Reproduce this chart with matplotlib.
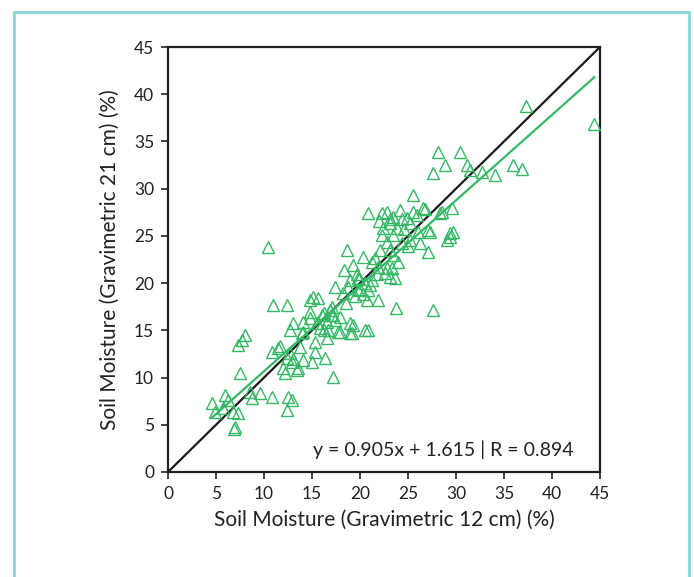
import matplotlib.pyplot as plt
from matplotlib.patches import Rectangle
import numpy as np

plt.rcParams['font.family'] = ['Lato', 'DejaVu Sans']

# soil moisture at 12 cm (x) and 21 cm (y)
sm_12cm = [
    18.6, 20.3, 21.2, 19.3, 18.3, 19.7, 21.8, 22.8, 23.1, 19.0, 20.5, 17.4,
    18.8, 19.8, 18.2, 20.8, 15.1, 14.8, 20.7, 21.9, 23.8, 14.8, 16.2, 17.2,
    17.9, 16.9, 14.1, 15.5, 16.6, 19.3, 14.1, 16.2, 17.9, 19.2, 20.5, 12.7,
    25.5, 20.8, 22.3, 23.4, 24.9, 25.9, 26.8, 28.3, 23.1, 25.2, 22.4, 23.9,
    22.3, 23.4, 26.0, 27.3, 22.8, 24.4, 25.2, 22.1, 23.1, 29.1, 29.4, 27.1,
    21.6, 23.4, 24.0, 21.9, 23.3, 22.6, 23.6, 19.8, 21.3,
    28.1, 30.4, 28.9, 27.6, 31.1, 31.5, 26.6, 28.5, 29.6, 22.8, 24.2, 25.5,
    22.0, 23.1, 24.4, 27.1, 29.7, 29.4, 27.6,
    37.3, 44.4, 32.7, 34.1, 35.9, 36.9,
    10.9, 12.4, 15.6, 17.1, 13.0, 14.8, 16.0, 17.1, 17.4, 19.0, 14.0, 15.8,
    16.7, 17.7, 19.0, 15.3, 11.5, 10.8, 13.8, 12.4, 12.9, 14.1, 15.3, 15.0,
    16.4, 12.0, 13.4, 17.2, 10.4, 20.8,
    8.0, 7.7, 7.3, 7.5, 11.7, 12.7, 13.0, 12.2, 13.5, 8.5, 9.6, 8.8, 10.8,
    12.5, 12.9, 12.4, 5.9, 4.6, 6.3, 5.7, 4.9, 6.8, 7.3, 7.0, 6.9,
    20.0, 21.0, 19.5, 18.5, 20.3, 24.6, 26.2, 25.0, 19.9, 16.6,
]
sm_21cm = [
    23.5, 22.8, 22.2, 21.9, 21.4, 21.0, 21.0, 21.6, 20.7, 20.3, 20.0, 19.6,
    19.6, 19.3, 19.0, 19.3, 18.5, 18.2, 18.2, 18.2, 17.4, 16.9, 16.8, 16.6,
    16.4, 17.2, 15.9, 15.8, 15.9, 15.6, 14.8, 15.0, 14.8, 14.7, 15.0, 15.0,
    29.3, 27.4, 27.4, 27.0, 26.9, 27.2, 27.8, 27.4, 26.4, 26.4, 25.8, 25.8,
    25.1, 25.1, 25.4, 25.4, 24.4, 24.2, 24.6, 23.5, 23.5, 24.6, 25.3, 23.3,
    22.7, 23.0, 22.2, 21.7, 21.6, 21.1, 20.5, 20.5, 20.3,
    33.9, 33.9, 32.5, 31.7, 32.5, 32.0, 28.0, 27.5, 28.0, 27.5, 27.7, 27.5,
    26.6, 26.8, 26.8, 25.6, 25.4, 24.9, 17.2,
    38.8, 36.8, 31.8, 31.5, 32.5, 32.1,
    17.7, 17.7, 18.4, 17.5, 15.8, 16.3, 16.6, 16.6, 16.1, 15.8, 14.7, 15.2,
    15.0, 14.8, 14.7, 13.8, 13.1, 12.7, 13.2, 12.1, 11.7, 11.9, 12.7, 11.7,
    12.1, 11.0, 10.8, 10.1, 23.8, 15.0,
    14.5, 14.0, 13.4, 10.5, 13.3, 12.6, 12.0, 10.5, 11.0, 8.5, 8.4, 7.8, 7.9,
    7.9, 7.6, 6.6, 8.2, 7.3, 7.6, 6.8, 6.4, 6.4, 6.2, 4.8, 4.6,
    19.4, 19.8, 18.6, 17.9, 18.8, 25.7, 24.3, 23.9, 20.4, 14.2,
]

slope = 0.905
intercept = 1.615
fit_label = 'y = 0.905x + 1.615 | R = 0.894'

ticks = [0, 5, 10, 15, 20, 25, 30, 35, 40, 45]

green = '#35b866'

fig = plt.figure(figsize=(6.94, 5.77), dpi=100)

# light teal frame around the whole panel
fig.patches.append(Rectangle((14 / 694, -0.05), 675 / 694, 1.05 - 12 / 577,
                             transform=fig.transFigure, fill=False,
                             edgecolor='#86d6da', linewidth=2))

ax = fig.add_axes([168 / 694, 105 / 577, 432 / 694, 425 / 577])

ax.plot(sm_12cm, sm_21cm, linestyle='none', marker='^', markersize=9,
        markerfacecolor='none', markeredgecolor=green, markeredgewidth=1.0,
        zorder=3)

# 1:1 line and linear fit
ax.plot([0, 45], [0, 45], color='#1a1a1a', linewidth=1.6, zorder=2)
xf = np.array([min(sm_12cm), max(sm_12cm)])
ax.plot(xf, slope * xf + intercept, color=green, linewidth=1.6, zorder=2)

ax.text(42.2, 2.4, fit_label, ha='right', va='center', fontsize=14,
        color='#222222')

ax.set_xlim(0, 45)
ax.set_ylim(0, 45)
ax.set_xticks(ticks)
ax.set_yticks(ticks)
ax.tick_params(direction='out', length=5, width=1.2, labelsize=12.5,
               colors='#222222', pad=5)
for s in ax.spines.values():
    s.set_linewidth(1.6)
    s.set_color('#222222')

ax.set_xlabel('Soil Moisture (Gravimetric 12 cm) (%)', fontsize=15,
              labelpad=6, color='#222222')
ax.set_ylabel('Soil Moisture (Gravimetric 21 cm) (%)', fontsize=15,
              labelpad=10, color='#222222')

fig.savefig('out.png', dpi=100)
